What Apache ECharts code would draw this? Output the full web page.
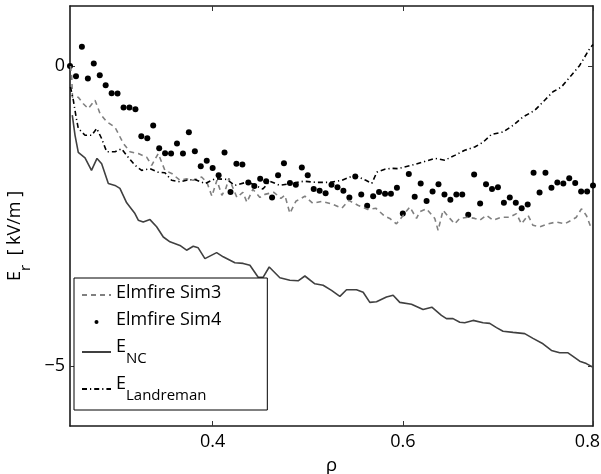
<!DOCTYPE html>
<html><head><meta charset="utf-8">
<script src="https://cdn.jsdelivr.net/npm/echarts@6/dist/echarts.min.js"></script>
<style>html,body{margin:0;padding:0;background:#fff}#c{width:601px;height:474px}</style>
</head><body><div id="c"></div>
<script>
const FONT = '"Open Sans", sans-serif';
const xTicks = [0.4, 0.6, 0.8];
const yTicks = [-5, 0];
const seriesNames = ['Elmfire Sim3', 'Elmfire Sim4', 'E_NC', 'E_Landreman'];

const sim3Rho = [0.2505,0.2518,0.2526,0.2587,0.264,0.2692,0.2763,0.2815,0.2886,0.2973,0.3061,0.3131,0.3218,0.3306,0.3359,0.3428,0.3498,0.3569,0.3656,0.3726,0.3796,0.3884,0.394,0.3992,0.4045,0.4097,0.4139,0.4171,0.4255,0.4318,0.436,0.4423,0.4497,0.4549,0.4644,0.4718,0.476,0.4812,0.4875,0.497,0.5054,0.5148,0.5264,0.5359,0.5432,0.5527,0.5632,0.5716,0.5811,0.5863,0.5933,0.6003,0.6073,0.6144,0.6178,0.6249,0.6336,0.6371,0.6423,0.6494,0.6546,0.6599,0.6686,0.6756,0.6809,0.6879,0.6949,0.7037,0.7124,0.7195,0.7247,0.7317,0.7369,0.744,0.7527,0.7615,0.7702,0.7773,0.7825,0.7878,0.793,0.7983];
const sim3Er = [0.0,-0.17,-0.52,-0.52,-0.63,-0.71,-0.57,-0.79,-0.93,-1.02,-1.29,-1.43,-1.46,-1.52,-1.655,-1.46,-1.74,-1.79,-1.905,-1.88,-1.905,-1.85,-1.94,-2.17,-1.905,-2.155,-2.04,-1.87,-2.19,-2.105,-2.27,-2.055,-2.19,-2.14,-2.105,-2.205,-2.155,-2.455,-2.255,-2.17,-2.29,-2.255,-2.305,-2.37,-2.24,-2.32,-2.39,-2.37,-2.505,-2.54,-2.63,-2.49,-2.35,-2.54,-2.43,-2.38,-2.54,-2.74,-2.405,-2.54,-2.63,-2.54,-2.52,-2.54,-2.57,-2.49,-2.57,-2.52,-2.52,-2.46,-2.63,-2.49,-2.655,-2.68,-2.63,-2.60,-2.63,-2.57,-2.52,-2.38,-2.49,-2.71];

const sim4Rho = [0.25,0.2563,0.2625,0.2688,0.275,0.2813,0.2875,0.2938,0.3,0.3063,0.3125,0.3188,0.325,0.3313,0.3375,0.3438,0.35,0.3563,0.3625,0.3688,0.375,0.3813,0.3875,0.3938,0.4,0.4063,0.4125,0.4188,0.425,0.4313,0.4375,0.4438,0.45,0.4563,0.4625,0.4688,0.475,0.4813,0.4875,0.4938,0.5,0.5063,0.5125,0.5188,0.525,0.5313,0.5375,0.5438,0.55,0.5563,0.5625,0.5688,0.575,0.5813,0.5875,0.5938,0.6,0.6063,0.6125,0.6188,0.625,0.6313,0.6375,0.6438,0.65,0.6563,0.6625,0.6688,0.675,0.6813,0.6875,0.6938,0.7,0.7063,0.7125,0.7188,0.725,0.7313,0.7375,0.7438,0.75,0.7563,0.7625,0.7688,0.775,0.7813,0.7875,0.7938,0.8];
const sim4Er = [0.0,-0.17,0.32,-0.21,0.04,-0.155,-0.32,-0.455,-0.46,-0.69,-0.69,-0.72,-1.17,-1.205,-0.99,-1.37,-1.455,-1.46,-1.29,-1.46,-1.105,-1.42,-1.67,-1.58,-1.70,-1.82,-1.44,-2.10,-1.63,-1.64,-1.94,-2.00,-1.88,-1.92,-2.19,-1.82,-1.62,-1.95,-1.98,-1.69,-1.82,-2.05,-2.08,-2.12,-1.98,-2.02,-2.08,-2.19,-1.84,-2.14,-2.33,-2.17,-2.10,-2.13,-2.13,-2.03,-2.46,-1.80,-2.18,-1.96,-2.25,-2.09,-1.97,-2.14,-2.23,-2.14,-2.14,-2.48,-1.81,-2.29,-1.97,-2.05,-2.02,-2.28,-2.19,-2.28,-2.37,-2.31,-1.78,-2.11,-1.78,-2.03,-1.94,-1.96,-1.87,-1.95,-2.09,-2.09,-1.99];

const ncRho = [0.2524,0.2553,0.2587,0.2658,0.2726,0.2784,0.2833,0.2903,0.2973,0.3025,0.3096,0.3183,0.3218,0.327,0.3341,0.3411,0.3481,0.3551,0.3656,0.3726,0.3796,0.3848,0.3919,0.4042,0.4111,0.4234,0.4321,0.4392,0.4479,0.4532,0.4595,0.4707,0.4812,0.4899,0.497,0.5075,0.5162,0.525,0.5338,0.5408,0.5513,0.5583,0.5653,0.5723,0.5828,0.5898,0.5968,0.6091,0.6213,0.6305,0.6406,0.6459,0.6528,0.6599,0.6651,0.6739,0.6844,0.6914,0.6985,0.7054,0.7159,0.7282,0.7369,0.7474,0.7563,0.765,0.7737,0.779,0.786,0.793,0.8];
const ncEr = [-0.82,-1.155,-1.44,-1.53,-1.74,-1.54,-1.63,-1.96,-1.99,-2.04,-2.28,-2.46,-2.57,-2.60,-2.56,-2.68,-2.85,-2.93,-2.99,-3.07,-3.005,-3.03,-3.21,-3.11,-3.18,-3.28,-3.29,-3.32,-3.52,-3.52,-3.35,-3.53,-3.57,-3.58,-3.50,-3.63,-3.655,-3.74,-3.84,-3.73,-3.73,-3.77,-3.94,-3.93,-3.85,-3.82,-3.94,-3.97,-4.06,-4.02,-4.155,-4.21,-4.21,-4.27,-4.28,-4.24,-4.28,-4.29,-4.36,-4.42,-4.44,-4.46,-4.54,-4.63,-4.74,-4.78,-4.78,-4.84,-4.92,-4.96,-5.02];

const landRho = [0.2505,0.2535,0.2563,0.2587,0.2658,0.2728,0.2781,0.2833,0.2886,0.2973,0.3043,0.3096,0.3183,0.3254,0.3341,0.3428,0.3498,0.3569,0.3656,0.3726,0.3814,0.3919,0.4024,0.415,0.4234,0.4371,0.4528,0.4602,0.4707,0.4833,0.4959,0.5096,0.5233,0.5359,0.5495,0.5611,0.5674,0.5727,0.5811,0.5884,0.5947,0.6091,0.6213,0.6336,0.6441,0.6546,0.6651,0.6756,0.6844,0.6932,0.7054,0.7159,0.7264,0.7387,0.7492,0.7579,0.7668,0.7773,0.786,0.7965,0.8];
const landEr = [-0.35,-0.57,-0.84,-1.04,-1.155,-1.155,-1.04,-1.21,-1.43,-1.43,-1.38,-1.49,-1.655,-1.74,-1.71,-1.77,-1.78,-1.905,-1.93,-1.905,-1.89,-1.96,-1.88,-1.89,-1.99,-1.93,-2.05,-1.92,-1.99,-1.955,-1.92,-1.94,-1.94,-1.905,-1.82,-1.905,-1.955,-1.77,-1.72,-1.705,-1.71,-1.655,-1.60,-1.54,-1.57,-1.49,-1.405,-1.35,-1.27,-1.14,-1.10,-0.99,-0.85,-0.74,-0.57,-0.43,-0.35,-0.155,0.01,0.29,0.36];

const zip = (xs, ys) => xs.map((x, i) => [x, ys[i]]);
const minus = v => (v < 0 ? '\u2212' + Math.abs(v) : String(v));

const chart = echarts.init(document.getElementById('c'), null, {renderer: 'canvas'});
const axisLineStyle = {color: '#1a1a1a', width: 1.6};
const tickStyle = {color: '#333', width: 1};
const subRich = {
  m: {fontFamily: FONT, fontSize: 18, color: '#000', lineHeight: 22, verticalAlign: 'top'},
  s: {fontFamily: FONT, fontSize: 15, color: '#000', lineHeight: 28, verticalAlign: 'bottom'},
  r: {fontFamily: FONT, fontSize: 18, color: '#000', padding: [0, 11, 0, 0]},
  n: {fontFamily: FONT, fontSize: 18, color: '#000'}
};
chart.setOption({
  animation: false,
  backgroundColor: '#fff',
  grid: {left: 70, right: 8, top: 6, bottom: 48, containLabel: false, outerBoundsMode: 'none'},
  xAxis: [{
    type: 'value', min: 0.25, max: 0.8, interval: 0.05,
    axisLine: {onZero: false, lineStyle: axisLineStyle},
    axisTick: {inside: true, length: 5, lineStyle: tickStyle, customValues: xTicks},
    axisLabel: {customValues: xTicks, formatter: v => (v >= 0.79 ? '{r|' : '{n|') + v.toFixed(1) + '}', rich: subRich, margin: 7},
    splitLine: {show: false},
    name: 'ρ', nameLocation: 'middle', nameGap: 23,
    nameTextStyle: {fontFamily: FONT, fontSize: 19, color: '#000'}
  }, {
    type: 'value', position: 'top', min: 0.25, max: 0.8, interval: 0.05,
    axisLine: {onZero: false, lineStyle: axisLineStyle},
    axisTick: {inside: true, length: 5, lineStyle: tickStyle, customValues: xTicks},
    axisLabel: {show: false}, splitLine: {show: false}
  }],
  yAxis: [{
    type: 'value', min: -6, max: 1, interval: 1,
    axisLine: {onZero: false, lineStyle: axisLineStyle},
    axisTick: {inside: true, length: 5, lineStyle: tickStyle, customValues: yTicks},
    axisLabel: {customValues: yTicks, formatter: minus, fontFamily: FONT, fontSize: 18, color: '#000', margin: 5},
    splitLine: {show: false},
    name: '{m|E}{s|r}{m|  [ kV/m ]}', nameLocation: 'middle', nameGap: 35,
    nameTextStyle: {padding: [0, 40, 0, 0], rich: subRich}
  }, {
    type: 'value', position: 'right', min: -6, max: 1, interval: 1,
    axisLine: {onZero: false, lineStyle: axisLineStyle},
    axisTick: {inside: true, length: 5, lineStyle: tickStyle, customValues: yTicks},
    axisLabel: {show: false}, splitLine: {show: false}
  }],
  legend: {
    orient: 'vertical', left: 74, top: 278,
    padding: [6, 46, 7, 7],
    borderColor: '#000', borderWidth: 1, backgroundColor: '#fff',
    itemWidth: 29, itemHeight: 4, itemGap: 9,
    data: [
      {name: seriesNames[0], itemStyle: {opacity: 0}},
      {name: seriesNames[1]},
      {name: seriesNames[2], itemStyle: {opacity: 0}},
      {name: seriesNames[3], itemStyle: {opacity: 0}}
    ],
    formatter: n => n === 'E_NC' ? '{m|E}{s|NC}' : n === 'E_Landreman' ? '{m|E}{s|Landreman}' : '{m|' + n + '}',
    textStyle: {fontFamily: FONT, fontSize: 18, color: '#000', rich: subRich}
  },
  series: [{
    name: seriesNames[0], type: 'line', data: zip(sim3Rho, sim3Er), symbol: 'none',
    lineStyle: {color: '#808080', width: 1.6, type: [5, 4]}, itemStyle: {color: '#808080'}
  }, {
    name: seriesNames[1], type: 'scatter', data: zip(sim4Rho, sim4Er), symbol: 'circle', symbolSize: 6,
    itemStyle: {color: '#000', opacity: 1}, clip: false
  }, {
    name: seriesNames[2], type: 'line', data: zip(ncRho, ncEr), symbol: 'none',
    lineStyle: {color: '#404040', width: 1.6}, itemStyle: {color: '#404040'}
  }, {
    name: seriesNames[3], type: 'line', data: zip(landRho, landEr), symbol: 'none',
    lineStyle: {color: '#000', width: 1.6, type: [5, 3, 1.2, 3]}, itemStyle: {color: '#000'}
  }]
});
</script></body></html>
